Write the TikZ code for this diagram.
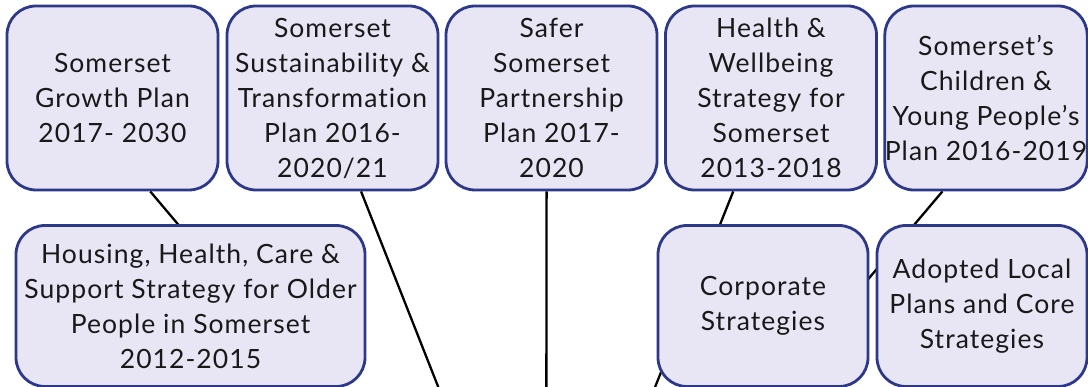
\documentclass[tikz,border=0pt]{standalone}
\usepackage{fontspec}
\setmainfont{Lato}[LetterSpace=4,Ligatures=NoCommon]
\usetikzlibrary{backgrounds}
\definecolor{planfill}{RGB}{232,230,244}
\definecolor{planedge}{RGB}{44,56,138}
\definecolor{plantext}{RGB}{25,25,25}
\tikzset{
  plan/.style={draw=planedge,fill=planfill,line width=2.8pt,rounded corners=29pt,
    inner sep=0pt,align=center,text=plantext,
    font=\fontsize{26.5}{35}\selectfont,
    minimum width=211pt,minimum height=184pt},
  low/.style={plan,minimum height=161pt},
  link/.style={line width=2.3pt,black},
}
\begin{document}
\begin{tikzpicture}[x=1pt,y=-1pt]
  \useasboundingbox (0,0) rectangle (1088,387);

  % top row
  \node[plan] (growth) at (112.5,98) {Somerset\\Growth Plan\\2017- 2030};
  \node[plan] (sustain) at (332.5,98) {Somerset\\Sustainability \&\\Transformation\\Plan 2016-\\2020/21};
  \node[plan] (safer) at (551.5,98) {Safer\\Somerset\\Partnership\\Plan 2017-\\2020};
  \node[plan] (health) at (771,98) {Health \&\\Wellbeing\\Strategy for\\Somerset\\2013-2018};
  \node[plan,minimum width=202pt] (children) at (986,98) {Somerset’s\\Children \&\\Young People’s\\Plan 2016-2019};

  % lower row
  \node[low,minimum width=349pt] (housing) at (190.5,306) {Housing, Health, Care \&\\Support Strategy for Older\\People in Somerset\\2012-2015};
  \node[low,minimum width=210pt] (corporate) at (763,306) {Corporate\\Strategies};
  \node[low,minimum width=210pt] (local) at (982,306) {Adopted Local\\Plans and Core\\Strategies};

  \coordinate (hub) at (546,660);

  \begin{scope}[on background layer]
    \clip (0,0) rectangle (1088,387);
    \draw[link] (hub) -- (growth.-68);
    \draw[link] (hub) -- (sustain.-73);
    \draw[link] (hub) -- (safer.-93);
    \draw[link] (hub) -- (health.-112);
    \draw[link] (hub) -- (children.-115);
  \end{scope}
\end{tikzpicture}
\end{document}
